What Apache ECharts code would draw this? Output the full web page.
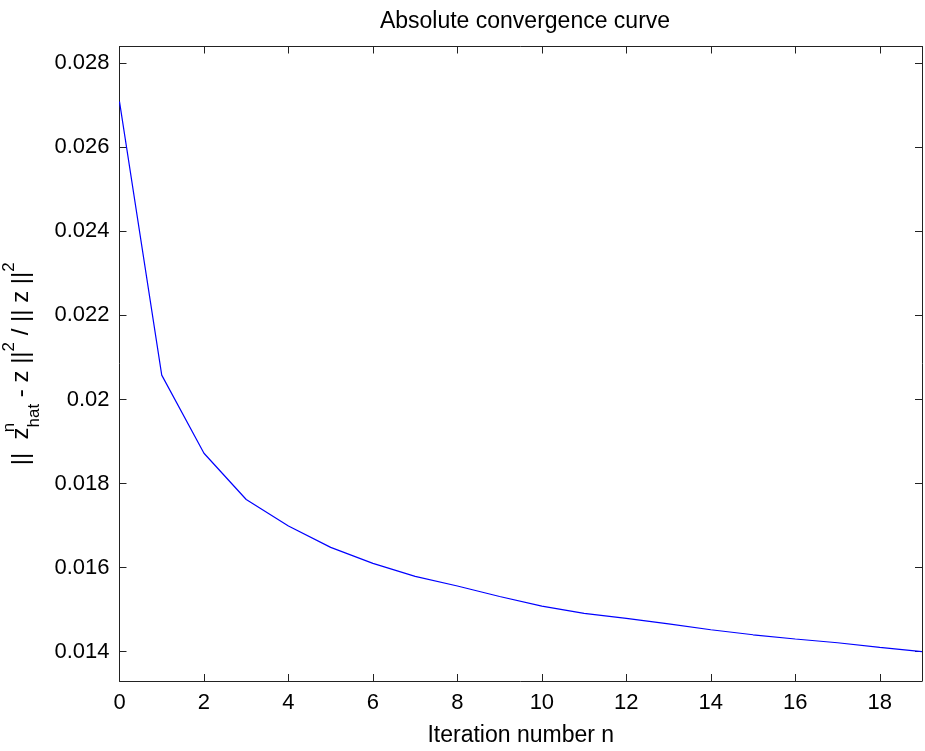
<!DOCTYPE html>
<html><head><meta charset="utf-8">
<script src="https://cdn.jsdelivr.net/npm/echarts@6/dist/echarts.min.js"></script>
<style>html,body{margin:0;padding:0;background:#fff}#c{width:925px;height:751px}</style>
</head><body><div id="c"></div>
<script>
const iterations = [0,1,2,3,4,5,6,7,8,9,10,11,12,13,14,15,16,17,18,19];
const errors = [0.02709,0.02058,0.01872,0.01762,0.01699,0.01648,0.01610,0.01579,0.01556,0.01531,0.01508,0.01491,0.01479,0.01466,0.01452,0.01440,0.01430,0.01421,0.01410,0.01400];
const yTicks = [0.014,0.016,0.018,0.020,0.022,0.024,0.026,0.028];
const titleText = 'Absolute convergence curve';
const xLabel = 'Iteration number n';

const FONT = 'Liberation Sans, Arial, sans-serif';
const axisCol = '#222';
const chart = echarts.init(document.getElementById('c'), null, {renderer:'canvas'});
const fmtY = v => String(+(+v).toFixed(3));
const common = {
  axisLine:{show:true,onZero:false,lineStyle:{color:axisCol,width:1}},
  splitLine:{show:false}
};
chart.setOption({
  animation:false,
  backgroundColor:'#fff',
  title:{text:titleText,left:520,top:5,textAlign:'center',
    textStyle:{fontFamily:FONT,fontSize:23,fontWeight:'normal',color:'#000'}},
  grid:{left:119.5,right:3,top:46.5,bottom:70,containLabel:false,outerBoundsMode:'none'},
  xAxis:[
    Object.assign({type:'value',min:0,max:19,interval:2,position:'bottom',
      name:xLabel,nameLocation:'middle',nameGap:43,
      nameTextStyle:{fontFamily:FONT,fontSize:23,color:'#000'},
      axisTick:{show:true,inside:true,length:7,lineStyle:{color:axisCol}},
      axisLabel:{fontFamily:FONT,fontSize:22,color:'#000',margin:11,showMaxLabel:false}},common),
    Object.assign({type:'value',min:0,max:19,interval:2,position:'top',
      axisTick:{show:true,inside:true,length:7,lineStyle:{color:axisCol}},
      axisLabel:{show:false}},common)
  ],
  yAxis:[
    Object.assign({type:'value',min:0.0133,max:0.0284,position:'left',
      name:'{n|||  z}{supz|n}{sub|hat}{n| - z ||}{sup|2}{n| / || z ||}{sup|2}',
      nameLocation:'middle',nameGap:64,nameRotate:90,
      nameTextStyle:{fontFamily:FONT,fontSize:24,color:'#000',
        rich:{
          n:{fontFamily:FONT,fontSize:24,color:'#000',lineHeight:44,verticalAlign:'middle'},
          supz:{fontFamily:FONT,fontSize:17,color:'#000',lineHeight:44,verticalAlign:'top',width:0,padding:[1,0,0,0]},
          sup:{fontFamily:FONT,fontSize:17,color:'#000',lineHeight:44,verticalAlign:'top',padding:[1,0,0,0]},
          sub:{fontFamily:FONT,fontSize:17,color:'#000',lineHeight:44,verticalAlign:'bottom',padding:[0,0,1,0]}
        }},
      axisTick:{show:true,inside:true,length:7,customValues:yTicks,lineStyle:{color:axisCol}},
      axisLabel:{fontFamily:FONT,fontSize:22,color:'#000',margin:10,customValues:yTicks,formatter:fmtY}},common),
    Object.assign({type:'value',min:0.0133,max:0.0284,position:'right',
      axisTick:{show:true,inside:true,length:7,customValues:yTicks,lineStyle:{color:axisCol}},
      axisLabel:{show:false,customValues:yTicks}},common)
  ],
  series:[{
    type:'line',xAxisIndex:0,yAxisIndex:0,
    data:iterations.map((x,i)=>[x,errors[i]]),
    showSymbol:false,symbol:'none',
    lineStyle:{color:'#0000ff',width:1.2},
    itemStyle:{color:'#0000ff'}
  }]
});
</script></body></html>
